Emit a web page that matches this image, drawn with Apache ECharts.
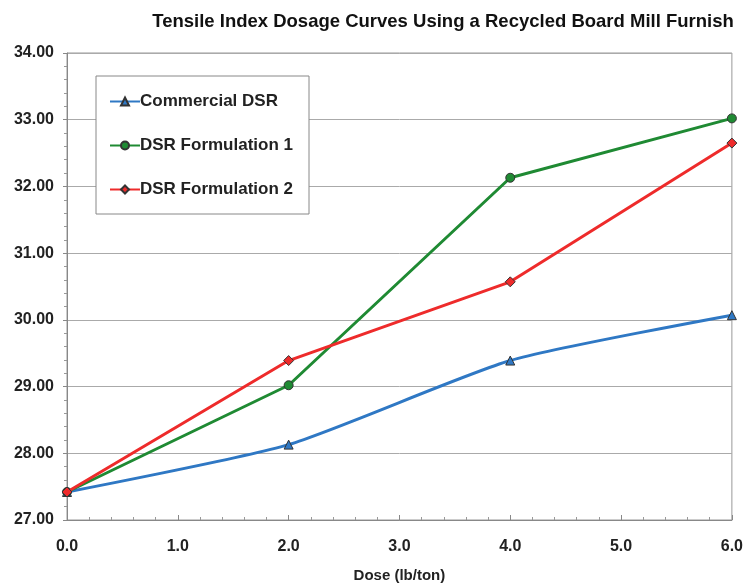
<!DOCTYPE html>
<html><head><meta charset="utf-8">
<script src="https://cdn.jsdelivr.net/npm/echarts@6/dist/echarts.min.js"></script>
<style>html,body{margin:0;padding:0;background:#fff}#c{width:746px;height:588px}</style>
</head><body><div id="c"></div>
<script>
const doses = [0, 2, 4, 6];
const commercial = [27.42, 28.13, 29.39, 30.07];
const formulation1 = [27.42, 29.02, 32.13, 33.02];
const formulation2 = [27.42, 29.39, 30.57, 32.65];
const seriesNames = ['Commercial DSR', 'DSR Formulation 1', 'DSR Formulation 2'];
const colors = ['#2f78c4', '#1f8a33', '#ee2b2b'];
const symbols = ['triangle', 'circle', 'diamond'];
const smoothing = [0.2, 0, 0];
const values = [commercial, formulation1, formulation2];

const chart = echarts.init(document.getElementById('c'));
const font = 'Liberation Sans, Arial, sans-serif';
chart.setOption({
  animation: false,
  title: {
    text: 'Tensile Index Dosage Curves Using a Recycled Board Mill Furnish',
    left: 438, top: 7, textAlign: 'center',
    textStyle: {fontFamily: font, fontSize: 18.5, fontWeight: 'bold', color: '#111'}
  },
  grid: {left: 67, right: 11, top: 53, bottom: 66, show: true, borderColor: '#999', borderWidth: 1},
  legend: {
    orient: 'vertical', left: 96, top: 76,
    padding: [17, 16, 16, 13], itemGap: 27,
    backgroundColor: '#fff', borderColor: '#888', borderWidth: 1,
    itemWidth: 30, itemHeight: 10,
    textStyle: {fontFamily: font, fontSize: 17, fontWeight: 'bold', color: '#222', padding: [0,0,0,-5], lineHeight: 17},
    data: seriesNames
  },
  xAxis: {
    type: 'value', min: 0, max: 6, interval: 1,
    name: 'Dose (lb/ton)', nameLocation: 'middle', nameGap: 48,
    nameTextStyle: {fontFamily: font, fontSize: 15, fontWeight: 'bold', color: '#222'},
    axisLine: {lineStyle: {color: '#888'}},
    axisTick: {show: true, inside: true, length: 5, lineStyle: {color: '#888'}},
    minorTick: {show: true, splitNumber: 5, length: 3, lineStyle: {color: '#999'}},
    splitLine: {show: false},
    axisLabel: {fontFamily: font, fontSize: 16, fontWeight: 'bold', color: '#222', margin: 19,
      formatter: v => v.toFixed(1)}
  },
  yAxis: {
    type: 'value', min: 27, max: 34, interval: 1,
    axisLine: {show: true, lineStyle: {color: '#888'}},
    axisTick: {show: true, length: 4, lineStyle: {color: '#888'}},
    minorTick: {show: true, splitNumber: 5, length: 3, lineStyle: {color: '#999'}},
    splitLine: {show: true, lineStyle: {color: '#aaa', width: 1}},
    axisLabel: {fontFamily: font, fontSize: 16, fontWeight: 'bold', color: '#222', margin: 13,
      formatter: v => v.toFixed(2)}
  },
  series: seriesNames.map((n, i) => ({
    name: n, type: 'line', smooth: smoothing[i] || false,
    data: doses.map((d, j) => [d, values[i][j]]),
    symbol: symbols[i], symbolSize: i === 2 ? 10 : 9,
    lineStyle: {color: colors[i], width: 3},
    itemStyle: {color: colors[i], borderColor: '#333', borderWidth: 1},
    z: 3 + i
  }))
});
</script></body></html>
